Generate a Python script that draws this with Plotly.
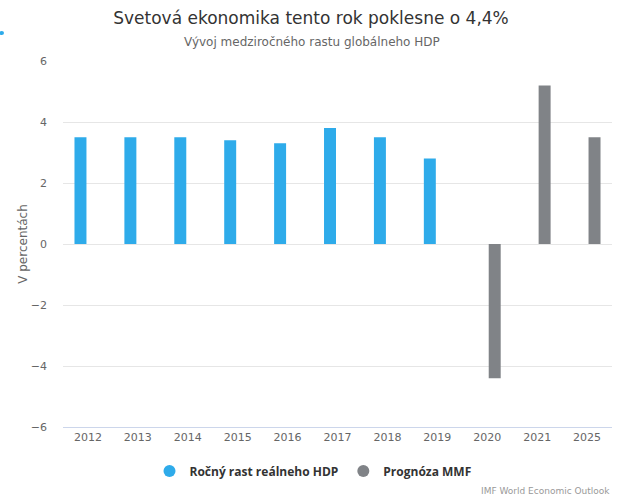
import plotly.graph_objects as go

years = ["2012", "2013", "2014", "2015", "2016", "2017", "2018", "2019", "2020", "2021", "2025"]
gdp_growth = [3.5, 3.5, 3.5, 3.4, 3.3, 3.8, 3.5, 2.8, None, None, None]
imf_forecast = [None, None, None, None, None, None, None, None, -4.4, 5.2, 3.5]
y_ticks = [-6, -4, -2, 0, 2, 4, 6]

BLUE = "#2eabea"
GREY = "#808387"
FONT = "DejaVu Sans"

fig = go.Figure()
fig.add_trace(go.Bar(x=years, y=gdp_growth, name="Ročný rast reálneho HDP",
                     marker=dict(color=BLUE, line=dict(width=0)), showlegend=False))
fig.add_trace(go.Bar(x=years, y=imf_forecast, name="Prognóza MMF",
                     marker=dict(color=GREY, line=dict(width=0)), showlegend=False))
# legend entries with circle symbols
fig.add_trace(go.Scatter(x=[None], y=[None], mode="markers", name="Ročný rast reálneho HDP",
                         marker=dict(symbol="circle", size=13, color=BLUE)))
fig.add_trace(go.Scatter(x=[None], y=[None], mode="markers", name="Prognóza MMF",
                         marker=dict(symbol="circle", size=13, color=GREY)))

fig.update_layout(
    width=622, height=500,
    margin=dict(l=63, r=10, t=61, b=73),
    paper_bgcolor="white", plot_bgcolor="white",
    font=dict(family=FONT, color="#333333"),
    barmode="group", bargap=0.4, bargroupgap=0.2,
    title=dict(text="Svetová ekonomika tento rok poklesne o 4,4%", x=311 / 622, xanchor="center",
               y=1 - 18 / 500, yanchor="middle", font=dict(size=17, color="#333333", family=FONT)),
    showlegend=True,
    legend=dict(orientation="h", xref="container", yref="container",
                x=313 / 622, xanchor="center", y=1 - 471 / 500, yanchor="middle",
                font=dict(size=12, color="#333333", family="Open Sans", weight="bold"),
                itemsizing="constant", itemwidth=30, traceorder="normal"),
    xaxis=dict(type="category", showgrid=False, showline=True, linecolor="#ccd6eb", linewidth=1,
               ticks="", tickfont=dict(size=11, color="#666666"), fixedrange=True),
    yaxis=dict(range=[-6, 6], tickvals=y_ticks, showgrid=True, gridcolor="#e6e6e6", gridwidth=1,
               zeroline=False, showline=False, ticks="", ticklabelstandoff=15,
               tickfont=dict(size=11, color="#666666"),
               title=dict(text="V percentách", font=dict(size=12, color="#666666"), standoff=0)),
)

fig.add_annotation(text="Vývoj medziročného rastu globálneho HDP", xref="paper", yref="paper",
                   x=(312 - 63) / 549, y=1 + (61 - 42) / 366, xanchor="center", yanchor="middle",
                   showarrow=False, font=dict(size=12, color="#666666", family=FONT))
fig.add_annotation(text="IMF World Economic Outlook", xref="paper", yref="paper",
                   x=1, y=-(491 - 427) / 366, xanchor="right", yanchor="middle", showarrow=False,
                   font=dict(size=9, color="#999999", family=FONT))
fig.add_shape(type="circle", xref="paper", yref="paper",
              x0=-63.5 / 549, x1=-59 / 549, y0=1 + (61 - 35) / 366, y1=1 + (61 - 31) / 366,
              fillcolor=BLUE, line=dict(width=0))

fig.write_html("out.html")
